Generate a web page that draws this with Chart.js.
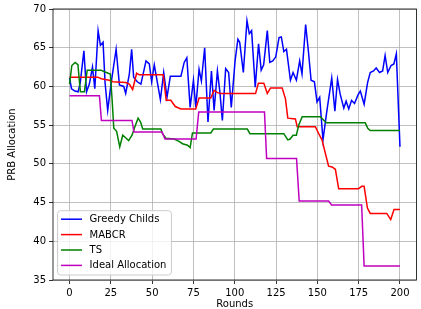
<!DOCTYPE html>
<html>
<head>
<meta charset="utf-8">
<script src="https://cdn.jsdelivr.net/npm/chart.js@4.4.1/dist/chart.umd.min.js"></script>
<style>
  html, body { margin: 0; padding: 0; background: #fff; }
  canvas { display: block; }
</style>
</head>
<body>
<canvas id="chart" width="421" height="309"></canvas>
<script>
// values
const xTicks = [0, 25, 50, 75, 100, 125, 150, 175, 200];
const yTicks = [35, 40, 45, 50, 55, 60, 65, 70];

const greedyRounds = [0, 1.2, 3.3, 5.2, 6.5, 8.7, 10.3, 12, 13.9, 15.3, 17.3, 18.7, 20.3, 21.5, 23.1, 25.1,
  28.2, 30.2, 32.8, 34, 36.2, 37.6, 38.8, 41, 43.2, 46.3, 48.3, 49.7, 51.3, 55, 57, 59, 61, 67.4, 69.4,
  71, 73, 75, 76.4, 78.4, 79.8, 81.8, 83.8, 85.9, 87.5, 89.5, 91, 92.5, 94.5, 96.3, 97.9, 100.2, 101.9,
  103, 105.2, 107.4, 108.8, 110.2, 112.4, 114.4, 116, 117.5, 119.7, 121.2, 123, 124.8, 126.8, 128.2,
  129.7, 131.3, 133.7, 135.3, 137.3, 139.3, 140.7, 142.9, 144.6, 146.2, 148.2, 149.8, 151.4, 153.4,
  155.8, 158.7, 160.6, 162.2, 163.8, 166, 167.4, 169, 170.7, 172.5, 174.6, 176, 178.3, 180.4, 182, 184,
  185.6, 187.6, 189.5, 191, 192.6, 194.6, 196.3, 197.8, 200];
const greedyValues = [61.1, 59.7, 59.4, 59.3, 60.5, 64.6, 59.3, 60.3, 62.5, 59.7, 67.2, 65.3, 65.7, 60.5, 56.9, 60.3,
  64.8, 60.2, 60.0, 59.1, 61.6, 64.8, 61.2, 60.6, 60.3, 63.3, 62.9, 60.6, 62.8, 58.3, 61.8, 58.6, 61.3, 61.3, 63.1,
  63.7, 57.3, 60.8, 57.3, 62.2, 60.7, 65.0, 55.4, 62.0, 56.9, 62.0, 59.3, 55.6, 62.3, 61.8, 57.3, 63.3, 66.1,
  65.7, 61.8, 68.5, 66.8, 67.2, 59.9, 65.5, 62.1, 62.8, 67.2, 63.1, 63.3, 63.8, 66.3, 66.4,
  64.5, 64.8, 60.8, 61.8, 60.8, 63.3, 61.6, 68.0, 64.5, 60.8, 60.6, 58.0, 58.6, 53.1,
  56.9, 61.1, 56.8, 60.9, 59.0, 57.2, 58.1, 57.1, 58.2, 57.8, 58.9, 59.4, 57.7, 60.5, 61.8, 62.0,
  62.4, 61.8, 62.0, 64.0, 61.8, 62.7, 62.9, 64.2, 52.2];

const mabcrRounds = [0, 17.1, 19.2, 24.1, 26.2, 34, 36.2, 38.2, 40.6, 42.2, 56.7, 58.5, 61.3, 64, 67.4, 76.4,
  78.4, 85.5, 87.5, 89.5, 91.5, 112.6, 114.3, 117.6, 119.7, 121.7, 128.7, 130.7, 132.1, 136.7, 137.8,
  148.8, 150.8, 152.8, 154.8, 156.8, 158.9, 160.9, 162.9, 174.9, 176.9, 178.3, 180.3, 182, 192, 194.4,
  196.4, 200];
const mabcrValues = [61.2, 61.2, 61.0, 60.8, 60.6, 60.5, 60.3, 59.6, 61.7, 61.5, 61.5, 58.2, 58.2, 57.4, 57.1, 57.1,
  58.5, 58.5, 59.5, 59.2, 59.1, 59.1, 60.4, 60.4, 59.1, 59.8, 59.8, 58.4, 55.9, 55.8, 54.8,
  54.8, 53.9, 53.1, 51.4, 49.7, 49.6, 49.3, 46.8, 46.8, 47.1, 47.1, 44.3, 43.6, 43.6, 42.8,
  44.1, 44.1];

const tsRounds = [0, 1.4, 3.4, 5.1, 6, 6.6, 9, 10.7, 19.1, 21.1, 24.7, 25.8, 26.8, 28.5, 30.4, 32.2, 33.8,
  35.8, 37.8, 39.4, 41.5, 43, 44.3, 55.3, 56.3, 58.3, 63.3, 66.3, 68.4, 71.4, 73, 74.4, 85.5, 87.1,
  107.6, 109.2, 129.7, 132.1, 133.5, 135.3, 137.3, 138.7, 140.8, 151.8, 155.4, 179, 180.5, 182, 200];
const tsValues = [60.3, 62.7, 63.1, 62.8, 60.6, 59.3, 59.3, 62.1, 62.1, 61.9, 61.6, 58.2, 54.6, 54.2, 52.2, 53.7, 53.4,
  53.0, 53.7, 54.7, 55.9, 55.4, 54.5, 54.5, 53.9, 53.3, 53.2, 52.9, 52.6, 52.4, 52.1, 54.0, 54.0, 54.5,
  54.5, 53.9, 53.9, 53.1, 53.2, 53.7, 53.7, 55.0, 56.1, 56.1, 55.3, 55.3, 54.6, 54.3, 54.3];

const idealRounds = [0, 18.1, 19.3, 37.8, 39, 56, 57.8, 76.6, 78.2, 118, 119.3, 137.4, 139, 156.8, 158.6,
  176.8, 178.3, 200];
const idealValues = [58.8, 58.8, 55.6, 55.6, 54.1, 54.1, 53.2, 53.2, 56.7, 56.7, 50.7, 50.7, 45.2, 45.2, 44.7,
  44.7, 36.8, 36.8];

const seriesNames = ['Greedy Childs', 'MABCR', 'TS', 'Ideal Allocation'];
const seriesColors = ['#0000ff', '#ff0000', '#008000', '#bf00bf'];

const toPoints = (rounds, values) => rounds.map((r, i) => ({ x: r, y: values[i] }));

const FONT = { family: 'DejaVu Sans', size: 10 };

// matplotlib style frame + legend box in lower left corner
const frameLegend = {
  id: 'frameLegend',
  afterDatasetsDraw(chart) {
    const { ctx, chartArea: a } = chart;
    ctx.save();
    ctx.strokeStyle = '#000';
    ctx.lineWidth = 0.8;
    ctx.strokeRect(a.left, a.top, a.right - a.left, a.bottom - a.top);

    ctx.font = '10px "DejaVu Sans"';
    const textW = Math.max(...seriesNames.map(n => ctx.measureText(n).width));
    const rowH = 15.4;
    const bx = a.left + 4.6, bw = 32 + textW + 5, bh = 64.3;
    const by = a.bottom - 5 - bh;
    ctx.beginPath();
    ctx.roundRect(bx, by, bw, bh, 3);
    ctx.fillStyle = 'rgba(255,255,255,0.8)';
    ctx.fill();
    ctx.strokeStyle = '#cccccc';
    ctx.lineWidth = 1;
    ctx.stroke();

    ctx.textBaseline = 'middle';
    seriesNames.forEach((name, i) => {
      const y = by + 8.5 + i * rowH;
      ctx.strokeStyle = seriesColors[i];
      ctx.lineWidth = 1.5;
      ctx.beginPath();
      ctx.moveTo(bx + 3.4, y);
      ctx.lineTo(bx + 24.4, y);
      ctx.stroke();
      ctx.fillStyle = '#000';
      ctx.fillText(name, bx + 32, y + 0.5);
    });
    ctx.restore();
  }
};

const datasets = [
  toPoints(greedyRounds, greedyValues),
  toPoints(mabcrRounds, mabcrValues),
  toPoints(tsRounds, tsValues),
  toPoints(idealRounds, idealValues)
].map((pts, i) => ({
  label: seriesNames[i],
  data: pts,
  borderColor: seriesColors[i],
  borderWidth: 1.5,
  pointRadius: 0,
  tension: 0,
  fill: false,
  order: 4 - i
}));

new Chart(document.getElementById('chart'), {
  type: 'line',
  data: { datasets },
  plugins: [frameLegend],
  options: {
    responsive: false,
    animation: false,
    devicePixelRatio: 1,
    layout: { padding: { left: 0, right: 4.5, top: 8, bottom: 0 } },
    plugins: { legend: { display: false }, tooltip: { enabled: false } },
    scales: {
      x: {
        type: 'linear',
        min: -10,
        max: 210,
        afterBuildTicks: s => { s.ticks = xTicks.map(v => ({ value: v })); },
        afterFit: s => { s.height = 29; },
        grid: { color: '#b0b0b0', lineWidth: 0.8, tickLength: 4, tickColor: '#000' },
        border: { display: false },
        ticks: { color: '#000', font: FONT, padding: 3, maxRotation: 0 },
        title: { display: true, text: 'Rounds', color: '#000', font: FONT, padding: { top: 0, bottom: -1.5 } }
      },
      y: {
        min: 35,
        max: 70,
        afterBuildTicks: s => { s.ticks = yTicks.map(v => ({ value: v })); },
        afterFit: s => { s.width = 53; },
        grid: { color: '#b0b0b0', lineWidth: 0.8, tickLength: 4, tickColor: '#000' },
        border: { display: false },
        ticks: { color: '#000', font: FONT, padding: 3 },
        title: { display: true, text: 'PRB Allocation', color: '#000', font: FONT, padding: { top: 6, bottom: 0 } }
      }
    }
  }
});
</script>
</body>
</html>
